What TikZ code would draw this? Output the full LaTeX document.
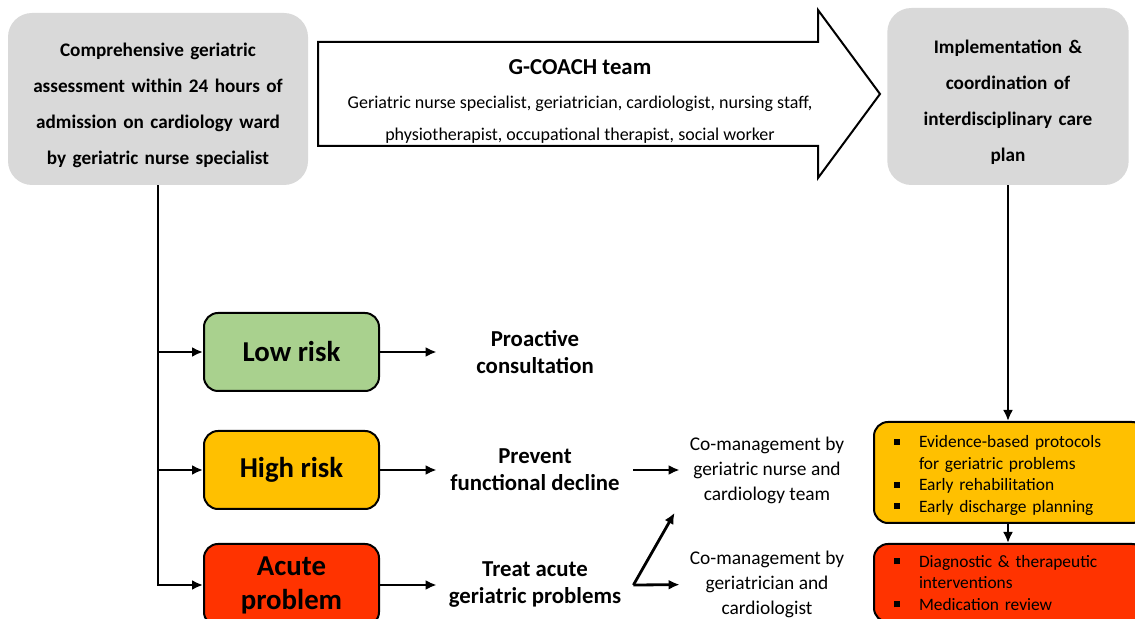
\documentclass[tikz,border=0pt]{standalone}
\usepackage{fontspec}
\setmainfont{Carlito}
\usetikzlibrary{arrows.meta,positioning}
\definecolor{cgagray}{RGB}{217,217,217}
\definecolor{lowgreen}{RGB}{169,209,142}
\definecolor{highamber}{RGB}{255,192,0}
\definecolor{acutered}{RGB}{255,51,0}
\newcommand{\sqbul}{\makebox[12.5pt][l]{\rule[1.6pt]{3pt}{3pt}}}
\newcommand{\sqind}{\hspace*{12.5pt}}
\newcommand{\topstrut}{\rule{0pt}{13pt}}

\begin{document}
\begin{tikzpicture}[x=0.5pt, y=-0.5pt, >={Latex[length=5.5pt,width=5pt]}]
  \tikzset{
    greybox/.style={fill=cgagray, rounded corners=12pt, text width=132pt, align=center, font=\bfseries\fontsize{9.6}{18}\selectfont},
    riskbox/.style={draw, line width=1pt, rounded corners=7pt, minimum width=87.5pt, minimum height=39pt, align=center, font=\bfseries\fontsize{14.4}{17}\selectfont},
    outcome/.style={minimum width=98pt, inner sep=0pt, align=center, font=\bfseries\fontsize{11.4}{13.5}\selectfont},
    comgmt/.style={minimum width=87pt, inner sep=0pt, align=center, font=\fontsize{9.7}{12.5}\selectfont},
    taskbox/.style={draw, line width=1pt, rounded corners=7pt, anchor=west, inner xsep=10pt, text width=116pt, align=left, font=\fontsize{8.7}{10.75}\selectfont},
    flow/.style={->, line width=1.4pt}
  }
  \useasboundingbox (0,0) rectangle (1135,619);
  \clip (0,0) rectangle (1135,619);

  \node[greybox, minimum width=150pt, minimum height=86pt] (cga) at (158,99) {\topstrut Comprehensive geriatric\\assessment within 24 hours of\\admission on cardiology ward\\by geriatric nurse specialist};
  \node[greybox, text width=114pt, minimum width=120pt, minimum height=88.5pt] (impl) at (1008,96.5) {\topstrut Implementation \&\\coordination of\\interdisciplinary care\\plan};

  \draw[line width=1pt, fill=white] (318,42) -- (818,42) -- (818,10) -- (880,94) -- (818,178) -- (818,146) -- (318,146) -- cycle;
  \node[font=\bfseries\fontsize{11.4}{13}\selectfont] (team) at (580,67) {G-COACH team};
  \node[align=center, font=\fontsize{9}{16}\selectfont] (members) at (580,120) {Geriatric nurse specialist, geriatrician, cardiologist, nursing staff,\\physiotherapist, occupational therapist, social worker};

  \node[riskbox, fill=lowgreen]  (low)   at (291.5,352) {Low risk};
  \node[riskbox, fill=highamber] (high)  at (291.5,470) {High risk};
  \node[riskbox, fill=acutered, minimum height=41pt] (acute) at (291.5,585) {Acute\\problem};

  \node[outcome] (pro)   at (535,352) {Proactive\\consultation};
  \node[outcome] (prev)  at (535,470) {Prevent\\functional decline};
  \node[outcome] (treat) at (535,585) {Treat acute\\geriatric problems};

  \node[comgmt] (cm1) at (767,470) {Co-management by\\geriatric nurse and\\cardiology team};
  \node[comgmt] (cm2) at (767,584) {Co-management by\\geriatrician and\\cardiologist};

  \node[taskbox, fill=highamber, minimum height=50.5pt] (prot) at (873,472.5) {\rule{0pt}{9pt}\sqbul Evidence-based protocols\\\sqind for geriatric problems\\\sqbul Early rehabilitation\\\sqbul Early discharge planning};
  \node[taskbox, fill=acutered, minimum height=39pt] (diag) at (873,583) {\sqbul Diagnostic \& therapeutic\\\sqind interventions\\\sqbul Medication review};

  \draw[flow] (cga.south) |- (low);
  \draw[flow] (cga.south) |- (high);
  \draw[flow] (cga.south) |- (acute);
  \draw[flow] (low) -- (pro);
  \draw[flow] (high) -- (prev);
  \draw[flow] (acute) -- (treat);
  \draw[flow] (prev) -- (cm1);
  \draw[flow] (treat.east) -- (cm2);
  \draw[flow] (treat.east) -- ([shift={(-5,9)}]cm1.south west);
  \draw[flow] (impl.south) -- (impl.south |- prot.north);
  \draw[flow] (impl.south |- prot.south) -- (impl.south |- diag.north);
\end{tikzpicture}
\end{document}
